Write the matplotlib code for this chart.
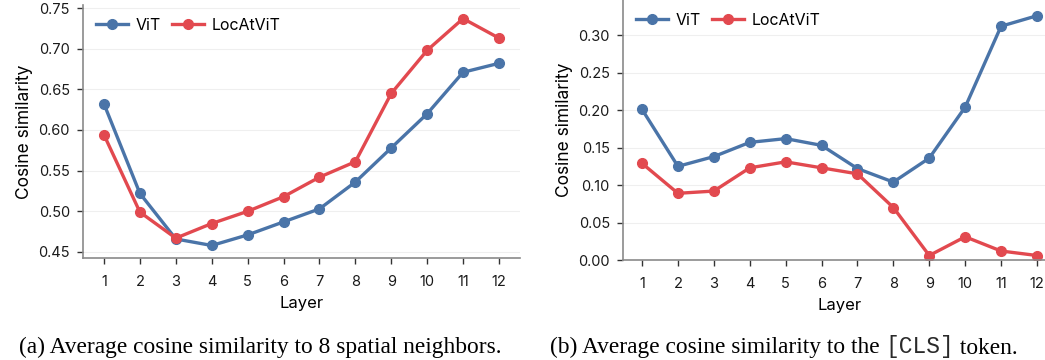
import numpy as np
import matplotlib
import matplotlib.pyplot as plt
from matplotlib.offsetbox import TextArea, HPacker, AnchoredOffsetbox
matplotlib.use("Agg")

plt.rcParams['font.family'] = ['Inter', 'DejaVu Sans']

layers = np.arange(1, 13)

# (a) similarity to the 8 spatial neighbours
vit_neigh = [0.632, 0.522, 0.466, 0.458, 0.471, 0.487, 0.503, 0.536, 0.578, 0.620, 0.671, 0.682]
loc_neigh = [0.594, 0.499, 0.467, 0.485, 0.500, 0.518, 0.542, 0.561, 0.645, 0.698, 0.737, 0.713]

# (b) similarity to the CLS token
vit_cls = [0.201, 0.125, 0.138, 0.157, 0.162, 0.153, 0.122, 0.104, 0.136, 0.204, 0.312, 0.326]
loc_cls = [0.129, 0.089, 0.092, 0.123, 0.131, 0.123, 0.115, 0.070, 0.006, 0.031, 0.012, 0.006]

BLUE = '#4a74a8'
RED = '#e2494f'

fig = plt.figure(figsize=(10.45, 3.6), dpi=100)
ax1 = fig.add_axes([83 / 1045, 1 - 258 / 360, 437 / 1045, 253 / 360])
ax2 = fig.add_axes([623 / 1045, 1 - 260 / 360, 433 / 1045, 260 / 360])


def style(ax):
    for s in ['top', 'right']:
        ax.spines[s].set_visible(False)
    for s in ['left', 'bottom']:
        ax.spines[s].set_color('#8a8a8a')
        ax.spines[s].set_linewidth(1.2)
    ax.yaxis.grid(True, color='#efefef', linewidth=0.8)
    ax.set_axisbelow(True)
    ax.tick_params(axis='both', labelsize=10.5, length=4, width=1,
                   color='#333333', labelcolor='#1a1a1a')
    ax.tick_params(axis='x', pad=8)
    ax.tick_params(axis='y', pad=5.5)
    ax.set_xticks(layers)
    ax.set_xlabel('Layer', fontsize=12, labelpad=5)
    ax.set_ylabel('Cosine similarity', fontsize=12.5, labelpad=4)


for ax, v, l in [(ax1, vit_neigh, loc_neigh), (ax2, vit_cls, loc_cls)]:
    ax.plot(layers, v, '-o', color=BLUE, lw=2.4, ms=7, label='ViT')
    ax.plot(layers, l, '-o', color=RED, lw=2.4, ms=7, label='LocAtViT')
    style(ax)
    ax.legend(loc='upper left', ncol=2, frameon=False, fontsize=11.5,
              handlelength=2.0, columnspacing=0.7, handletextpad=0.5,
              borderaxespad=0.4, bbox_to_anchor=(0.0, 1.0))

ax1.set_xlim(0.415, 12.585)
ax1.set_ylim(0.4426, 0.7537)
ax1.set_yticks([0.45, 0.50, 0.55, 0.60, 0.65, 0.70, 0.75])

ax2.set_xlim(0.47, 12.53)
ax2.set_ylim(0.0, 0.347)
ax2.set_yticks([0.00, 0.05, 0.10, 0.15, 0.20, 0.25, 0.30])


# captions: serif text with a monospace [CLS] piece
def caption(parts, x):
    boxes = []
    for txt, fam, size, col in parts:
        boxes.append(TextArea(txt, textprops=dict(family=fam, size=size, color=col)))
    pack = HPacker(children=boxes, pad=0, sep=0, align='baseline')
    box = AnchoredOffsetbox(loc='center', child=pack, frameon=False, pad=0, borderpad=0,
                            bbox_to_anchor=(x, 1 - 347 / 360), bbox_transform=fig.transFigure)
    fig.add_artist(box)


serif = 'Liberation Serif'
mono = 'Liberation Mono'
caption([('(a) Average cosine similarity to 8 spatial neighbors.', serif, 16.8, 'black')], 260 / 1045)
caption([('(b) Average cosine similarity to the ', serif, 16.8, 'black'),
         ('[CLS]', mono, 16.5, '#2a2a2a'),
         (' token.', serif, 16.8, 'black')], 784 / 1045)

fig.savefig('out.png', dpi=100)
